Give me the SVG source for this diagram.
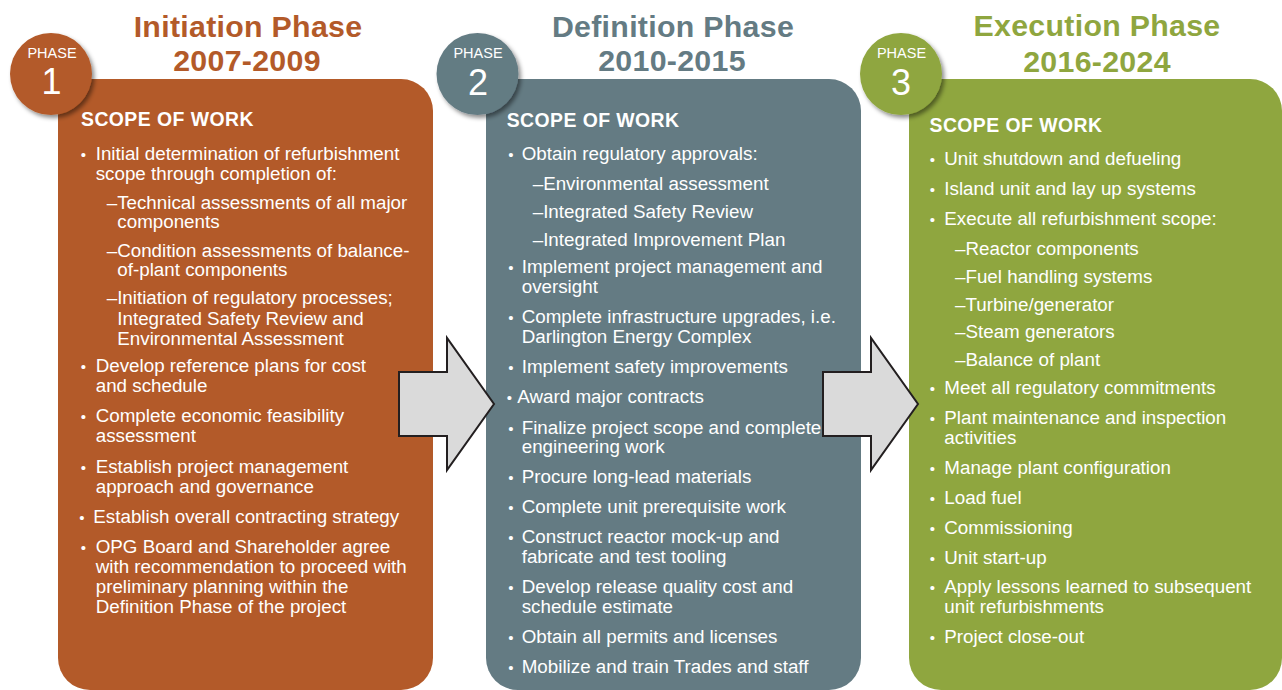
<svg xmlns="http://www.w3.org/2000/svg" width="1282" height="690" viewBox="0 0 1282 690">
  <style>
    text { font-family: "Liberation Sans", Arial, Helvetica, sans-serif; }
    .title { font-size: 30.3px; font-weight: bold; text-anchor: middle; letter-spacing: 0.3px; }
    .t1 { fill: #B35A29; }
    .t2 { fill: #647B83; }
    .t3 { fill: #8FA63F; }
    .p1 { fill: #B35A29; }
    .p2 { fill: #647B83; }
    .p3 { fill: #8FA63F; }
    .head { font-size: 19.4px; font-weight: bold; fill: #ffffff; letter-spacing: 0.45px; }
    .body { font-size: 18.8px; fill: #ffffff; }
    .dot { font-size: 15px; fill: #ffffff; text-anchor: middle; }
    .plabel { font-size: 14.5px; fill: #ffffff; text-anchor: middle; }
    .pnum { font-size: 36px; fill: #ffffff; text-anchor: middle; }
    .arrow { fill: #DADADA; stroke: #231F20; stroke-width: 2; stroke-linejoin: miter; }
  </style>
  <defs>
    <filter id="badgeShadow" x="-30%" y="-30%" width="170%" height="170%">
      <feDropShadow dx="2.5" dy="3" stdDeviation="2.2" flood-color="#000000" flood-opacity="0.45"/>
    </filter>
  </defs>

  <rect width="1282" height="690" fill="#ffffff"/>

  <!-- Phase 1: Initiation -->
  <g id="phase1">
    <rect class="p1" x="58" y="79" width="375" height="611" rx="32"/>
    <text class="title t1" x="248" y="36.5">Initiation Phase</text>
    <text class="title t1" x="247" y="71">2007-2009</text>
    <circle class="p1" cx="51" cy="74" r="41" filter="url(#badgeShadow)"/>
    <text class="plabel" x="52" y="57.5">PHASE</text>
    <text class="pnum" x="51.5" y="94">1</text>
    <text class="head" x="81" y="126">SCOPE OF WORK</text>
    <g class="body">
      <text x="95.7" y="160">Initial determination of refurbishment</text>
      <text x="95.7" y="179.5">scope through completion of:</text>
      <text x="106.7" y="209.3">–Technical assessments of all major</text>
      <text x="117.3" y="228.3">components</text>
      <text x="106.7" y="256.7">–Condition assessments of balance-</text>
      <text x="117.3" y="276">of-plant components</text>
      <text x="106.7" y="304">–Initiation of regulatory processes;</text>
      <text x="117.3" y="325">Integrated Safety Review and</text>
      <text x="117.3" y="345">Environmental Assessment</text>
      <text x="95.7" y="371.7">Develop reference plans for cost</text>
      <text x="95.7" y="391.7">and schedule</text>
      <text x="95.7" y="421.7">Complete economic feasibility</text>
      <text x="95.7" y="441.7">assessment</text>
      <text x="95.7" y="472.7">Establish project management</text>
      <text x="95.7" y="492.7">approach and governance</text>
      <text x="93.3" y="523.3">Establish overall contracting strategy</text>
      <text x="95.7" y="552.7">OPG Board and Shareholder agree</text>
      <text x="95.7" y="572.7">with recommendation to proceed with</text>
      <text x="95.7" y="593">preliminary planning within the</text>
      <text x="95.7" y="612.7">Definition Phase of the project</text>
    </g>
    <g class="dot">
      <text x="83.3" y="160">•</text>
      <text x="83.3" y="371.7">•</text>
      <text x="83.3" y="421.7">•</text>
      <text x="83.3" y="472.7">•</text>
      <text x="82" y="523.3">•</text>
      <text x="83.3" y="552.7">•</text>
    </g>
  </g>

  <!-- Phase 2: Definition -->
  <g id="phase2">
    <rect class="p2" x="486" y="79" width="375" height="611" rx="32"/>
    <text class="title t2" x="673" y="36.5">Definition Phase</text>
    <text class="title t2" x="672" y="71">2010-2015</text>
    <circle class="p2" cx="477.5" cy="74" r="41" filter="url(#badgeShadow)"/>
    <text class="plabel" x="478" y="57.5">PHASE</text>
    <text class="pnum" x="478" y="95">2</text>
    <text class="head" x="506.7" y="127">SCOPE OF WORK</text>
    <g class="body">
      <text x="521.7" y="160">Obtain regulatory approvals:</text>
      <text x="532.7" y="190">–Environmental assessment</text>
      <text x="532.7" y="218.3">–Integrated Safety Review</text>
      <text x="532.7" y="246">–Integrated Improvement Plan</text>
      <text x="521.7" y="273.3">Implement project management and</text>
      <text x="521.7" y="292.7">oversight</text>
      <text x="521.7" y="323.3">Complete infrastructure upgrades, i.e.</text>
      <text x="521.7" y="342.7">Darlington Energy Complex</text>
      <text x="521.7" y="373.3">Implement safety improvements</text>
      <text x="517.3" y="403.3">Award major contracts</text>
      <text x="521.7" y="434">Finalize project scope and complete</text>
      <text x="521.7" y="453.3">engineering work</text>
      <text x="521.7" y="483.3">Procure long-lead materials</text>
      <text x="521.7" y="513.3">Complete unit prerequisite work</text>
      <text x="521.7" y="543.3">Construct reactor mock-up and</text>
      <text x="521.7" y="563">fabricate and test tooling</text>
      <text x="521.7" y="593">Develop release quality cost and</text>
      <text x="521.7" y="613">schedule estimate</text>
      <text x="521.7" y="643">Obtain all permits and licenses</text>
      <text x="521.7" y="673">Mobilize and train Trades and staff</text>
    </g>
    <g class="dot">
      <text x="511" y="160">•</text>
      <text x="511" y="273.3">•</text>
      <text x="511" y="323.3">•</text>
      <text x="511" y="373.3">•</text>
      <text x="509.5" y="403.3">•</text>
      <text x="511" y="434">•</text>
      <text x="511" y="483.3">•</text>
      <text x="511" y="513.3">•</text>
      <text x="511" y="543.3">•</text>
      <text x="511" y="593">•</text>
      <text x="511" y="643">•</text>
      <text x="511" y="673">•</text>
    </g>
  </g>

  <!-- Phase 3: Execution -->
  <g id="phase3">
    <rect class="p3" x="909" y="79" width="373" height="611" rx="32"/>
    <text class="title t3" x="1097" y="36">Execution Phase</text>
    <text class="title t3" x="1097" y="71.5">2016-2024</text>
    <circle class="p3" cx="901" cy="74" r="41" filter="url(#badgeShadow)"/>
    <text class="plabel" x="901.5" y="57.5">PHASE</text>
    <text class="pnum" x="901" y="95">3</text>
    <text class="head" x="929.5" y="131.7">SCOPE OF WORK</text>
    <g class="body">
      <text x="944.3" y="165">Unit shutdown and defueling</text>
      <text x="944.3" y="195">Island unit and lay up systems</text>
      <text x="944.3" y="225">Execute all refurbishment scope:</text>
      <text x="955" y="255">–Reactor components</text>
      <text x="955" y="282.7">–Fuel handling systems</text>
      <text x="955" y="310.7">–Turbine/generator</text>
      <text x="955" y="338.3">–Steam generators</text>
      <text x="955" y="366">–Balance of plant</text>
      <text x="944.3" y="394">Meet all regulatory commitments</text>
      <text x="944.3" y="424">Plant maintenance and inspection</text>
      <text x="944.3" y="443.5">activities</text>
      <text x="944.3" y="473.5">Manage plant configuration</text>
      <text x="944.3" y="503.5">Load fuel</text>
      <text x="944.3" y="533.5">Commissioning</text>
      <text x="944.3" y="563.5">Unit start-up</text>
      <text x="944.3" y="593.3">Apply lessons learned to subsequent</text>
      <text x="944.3" y="613.3">unit refurbishments</text>
      <text x="944.3" y="643.3">Project close-out</text>
    </g>
    <g class="dot">
      <text x="932.3" y="165">•</text>
      <text x="932.3" y="195">•</text>
      <text x="932.3" y="225">•</text>
      <text x="932.3" y="394">•</text>
      <text x="932.3" y="424">•</text>
      <text x="932.3" y="473.5">•</text>
      <text x="932.3" y="503.5">•</text>
      <text x="932.3" y="533.5">•</text>
      <text x="932.3" y="563.5">•</text>
      <text x="932.3" y="593.3">•</text>
      <text x="932.3" y="643.3">•</text>
    </g>
  </g>

  <!-- Block arrows between phases -->
  <g id="connectors">
    <polygon class="arrow" points="399,372 447,372 447,338 494,404 447,470 447,436 399,436"/>
    <polygon class="arrow" points="823,372 871,372 871,338 918,404 871,470 871,436 823,436"/>
  </g>
</svg>
